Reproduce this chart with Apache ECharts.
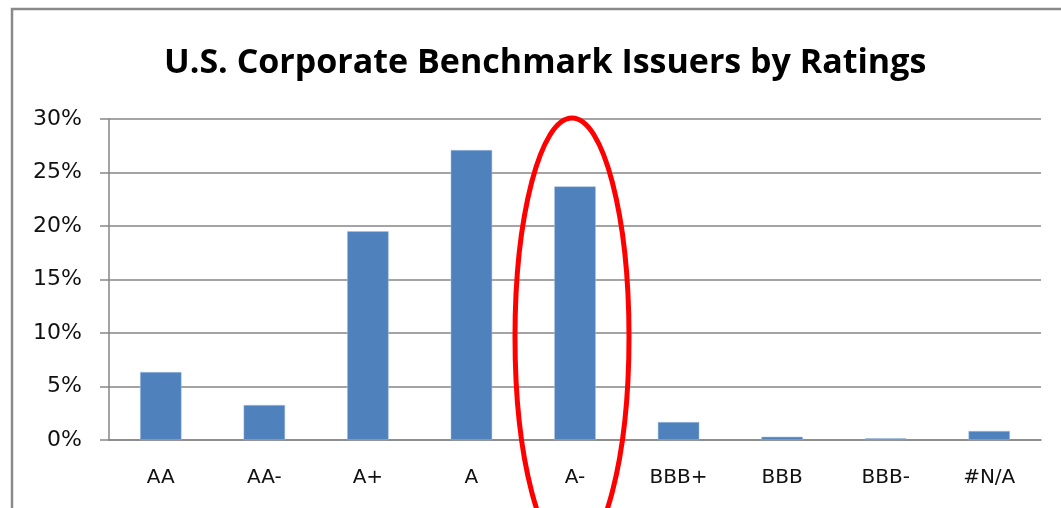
<!DOCTYPE html>
<html>
<head>
<meta charset="utf-8">
<script src="https://cdn.jsdelivr.net/npm/echarts@6/dist/echarts.min.js"></script>
<style>
  html, body { margin: 0; padding: 0; background: #fff; }
  #chart { width: 1061px; height: 508px; }
</style>
</head>
<body>
<div id="chart"></div>
<script>
// ratings buckets and share of issuers (%)
const ratings = ['AA', 'AA-', 'A+', 'A', 'A-', 'BBB+', 'BBB', 'BBB-', '#N/A'];
const shares = [6.35, 3.27, 19.5, 27.1, 23.7, 1.68, 0.3, 0.16, 0.84];
const yTicks = [0, 5, 10, 15, 20, 25, 30];

const chart = echarts.init(document.getElementById('chart'));

const titleFont = '"Open Sans", sans-serif';
const labelFont = '"DejaVu Sans", sans-serif';

let option = {
    animation: false,
    title: {
        text: 'U.S. Corporate Benchmark Issuers by Ratings',
        left: 159,
        top: 41,
        textStyle: {
            fontFamily: titleFont,
            fontSize: 34,
            fontWeight: 'bold',
            color: '#000'
        }
    },
    grid: {
        left: 109,
        right: 20,
        top: 119,
        bottom: 68
    },
    xAxis: {
        type: 'category',
        data: ratings,
        axisLine: { lineStyle: { color: '#868686', width: 1.5 } },
        axisTick: { length: 9, lineStyle: { color: '#868686', width: 1.5 } },
        axisLabel: {
            margin: 28,
            fontFamily: labelFont,
            fontSize: 20,
            color: '#111'
        }
    },
    yAxis: {
        type: 'value',
        min: yTicks[0],
        max: yTicks[yTicks.length - 1],
        interval: 5,
        axisLine: { show: true, lineStyle: { color: '#868686', width: 1.5 } },
        axisTick: { show: true, length: 9, lineStyle: { color: '#868686', width: 1.5 } },
        splitLine: { lineStyle: { color: '#868686', width: 1.5 } },
        axisLabel: {
            margin: 27,
            fontFamily: labelFont,
            fontSize: 22,
            color: '#111',
            formatter: '{value}%'
        }
    },
    series: [{
        type: 'bar',
        data: shares,
        barCategoryGap: '60%',
        itemStyle: {
            color: '#4F81BD',
            borderColor: '#A7C0DE',
            borderWidth: 0.5
        }
    }],
    graphic: [
        {
            // outer chart frame
            type: 'rect',
            shape: { x: 12, y: 9, width: 1200, height: 600 },
            style: { fill: 'none', stroke: '#8a8a8a', lineWidth: 2.5 },
            z: 10
        },
        {
            // highlight around A-
            type: 'ellipse',
            shape: { cx: 572, cy: 337, rx: 57, ry: 219 },
            style: { fill: 'none', stroke: '#FF0000', lineWidth: 5 },
            z: 20
        }
    ]
};

chart.setOption(option);
</script>
</body>
</html>
